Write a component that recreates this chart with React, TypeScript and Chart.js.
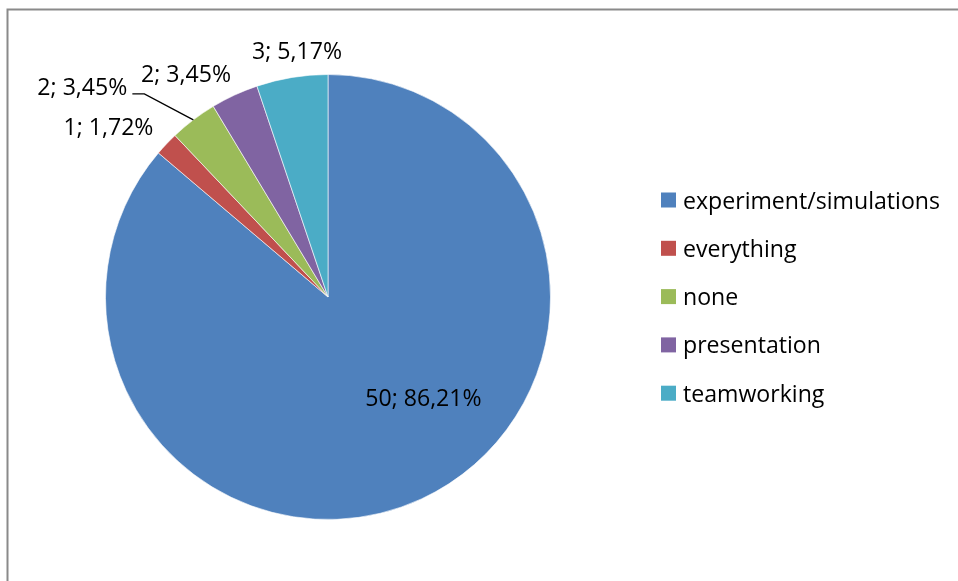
import React, { useEffect, useRef } from "react";
import { Chart, registerables } from "chart.js";

Chart.register(...registerables);

// ---- data ----
const categories = ["experiment/simulations", "everything", "none", "presentation", "teamworking"];
const counts = [50, 1, 2, 2, 3];
const colors = ["#4F81BD", "#C0504D", "#9BBB59", "#8064A2", "#4BACC6"];

// ---- styling (label placement relative to slice edge, Excel "best fit") ----
const LABEL_OFFSETS: [number, number][] = [
  [2, -102],
  [-58, -17.5],
  [-111, -33],
  [-48.5, -21.5],
  [5, -27],
];
const LEADER = [false, false, true, false, false];
const FAMILY = '"Open Sans", Lato, sans-serif';
const LEGEND_TEXT_WIDTH = 257; // width of the longest legend entry in the reference
const TEXT_DY = 2; // baseline correction for the substitute font
const W = 958;
const H = 581;

const total = counts.reduce((a, b) => a + b, 0);
const pctText = (v: number) => ((v / total) * 100).toFixed(2).replace(".", ",") + "%";

const fitFont = (ctx: CanvasRenderingContext2D) => {
  ctx.font = `22px ${FAMILY}`;
  const w = ctx.measureText(categories[0]).width;
  const size = (22 * LEGEND_TEXT_WIDTH) / w;
  return `${size.toFixed(2)}px ${FAMILY}`;
};

const framePlugin = {
  id: "frame",
  beforeDraw(chart: any) {
    const ctx = chart.ctx as CanvasRenderingContext2D;
    ctx.save();
    ctx.fillStyle = "#ffffff";
    ctx.fillRect(0, 0, chart.width, chart.height);
    ctx.strokeStyle = "#8a8a8a";
    ctx.lineWidth = 2;
    ctx.beginPath();
    ctx.moveTo(7.5, chart.height + 5);
    ctx.lineTo(7.5, 9.5);
    ctx.lineTo(chart.width + 5, 9.5);
    ctx.stroke();
    ctx.restore();
  },
};

const labelPlugin = {
  id: "sliceLabels",
  afterDatasetsDraw(chart: any) {
    const ctx = chart.ctx as CanvasRenderingContext2D;
    const meta = chart.getDatasetMeta(0);
    ctx.save();
    ctx.font = fitFont(ctx);
    ctx.fillStyle = "#000000";
    ctx.textBaseline = "middle";
    meta.data.forEach((arc: any, i: number) => {
      const p = arc.getProps(["x", "y", "startAngle", "endAngle", "outerRadius"], true);
      const mid = (p.startAngle + p.endAngle) / 2;
      const ax = p.x + Math.cos(mid) * p.outerRadius;
      const ay = p.y + Math.sin(mid) * p.outerRadius;
      const [dx, dy] = LABEL_OFFSETS[i];
      const lx = ax + dx;
      const ly = ay + dy;
      const text = `${counts[i]}; ${pctText(counts[i])}`;
      const w = ctx.measureText(text).width;
      if (LEADER[i]) {
        const right = lx + w / 2;
        ctx.strokeStyle = "#000000";
        ctx.lineWidth = 1.3;
        ctx.beginPath();
        ctx.moveTo(right + 5, ly + 7);
        ctx.lineTo(right + 17, ly + 7);
        ctx.lineTo(ax, ay);
        ctx.stroke();
      }
      ctx.textAlign = "center";
      ctx.fillText(text, lx, ly + TEXT_DY);
    });

    // legend
    const lgX = 661;
    const lgY0 = 200;
    const lgStep = 48.3;
    categories.forEach((c, i) => {
      const y = lgY0 + i * lgStep;
      ctx.fillStyle = colors[i];
      ctx.fillRect(lgX, y - 7.5, 15, 15);
      ctx.fillStyle = "#000000";
      ctx.textAlign = "left";
      ctx.fillText(c, lgX + 22, y + TEXT_DY);
    });
    ctx.restore();
  },
};

export default function App() {
  const ref = useRef<HTMLCanvasElement | null>(null);
  useEffect(() => {
    if (!ref.current) return;
    const chart = new Chart(ref.current, {
      type: "pie",
      data: {
        labels: categories,
        datasets: [
          {
            data: counts,
            backgroundColor: colors,
            borderColor: "rgba(255,255,255,0.6)",
            borderWidth: 1,
          },
        ],
      },
      options: {
        responsive: false,
        animation: false,
        layout: { padding: { top: 74, bottom: 61, left: 105, right: 407 } },
        plugins: {
          legend: { display: false },
          tooltip: { enabled: false },
          title: { display: false },
        },
      },
      plugins: [framePlugin, labelPlugin],
    });
    return () => chart.destroy();
  }, []);
  return (
    <div style={{ position: "fixed", left: 0, top: 0, width: W, height: H, background: "#fff" }}>
      <canvas ref={ref} width={W} height={H} style={{ width: W, height: H, display: "block" }} />
    </div>
  );
}
